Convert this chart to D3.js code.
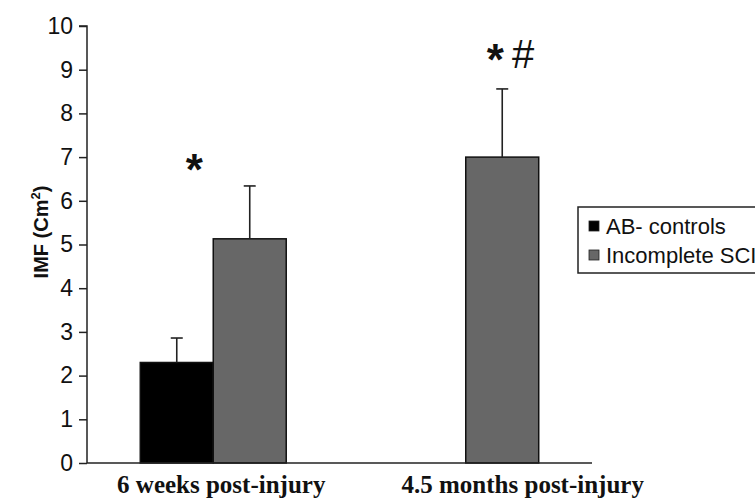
<!DOCTYPE html>
<html>
<head>
<meta charset="utf-8">
<script src="https://cdn.jsdelivr.net/npm/d3@7"></script>
<style>
  html, body { margin: 0; padding: 0; background: #fff; }
  svg { display: block; }
</style>
</head>
<body>
<svg id="chart" width="755" height="500"></svg>
<script>
// IMF by time point and group (mean with upper SD bar)
const timepoints = ["6 weeks post-injury", "4.5 months post-injury"];
const groups = ["AB- controls", "Incomplete SCI"];
const controlsMean = [2.3, null];
const controlsErr = [0.56, null];
const sciMean = [5.13, 7.0];
const sciErr = [1.21, 1.56];
const yTicks = [0, 1, 2, 3, 4, 5, 6, 7, 8, 9, 10];

const colors = { "AB- controls": "#000000", "Incomplete SCI": "#676767" };

const svg = d3.select("#chart");
const W = 755, H = 500;
const margin = { left: 87, right: 163, top: 26, bottom: 37 };

const x0 = d3.scaleBand().domain(timepoints).range([margin.left, W - margin.right]).paddingInner(0).paddingOuter(0);
const x1 = d3.scaleBand().domain(groups).range([0, x0.bandwidth()]).paddingInner(0).paddingOuter(0.73);
const y = d3.scaleLinear().domain([0, 10]).range([H - margin.bottom, margin.top]);

const rows = [];
timepoints.forEach((t, i) => {
  rows.push({ t, g: groups[0], v: controlsMean[i], e: controlsErr[i] });
  rows.push({ t, g: groups[1], v: sciMean[i], e: sciErr[i] });
});
const shown = rows.filter(r => r.v != null);
const barCenter = d => x0(d.t) + x1(d.g) + x1.bandwidth() / 2;

// bars
svg.append("g").selectAll("rect").data(shown).join("rect")
  .attr("x", d => x0(d.t) + x1(d.g))
  .attr("y", d => y(d.v))
  .attr("width", x1.bandwidth())
  .attr("height", d => y(0) - y(d.v))
  .attr("fill", d => colors[d.g])
  .attr("stroke", "#111")
  .attr("stroke-width", 1.5);

// upper error bars
const eb = svg.append("g").attr("stroke", "#222").attr("stroke-width", 1.6);
shown.forEach(d => {
  const cx = barCenter(d);
  eb.append("line").attr("x1", cx).attr("x2", cx).attr("y1", y(d.v)).attr("y2", y(d.v + d.e));
  eb.append("line").attr("x1", cx - 6).attr("x2", cx + 6).attr("y1", y(d.v + d.e)).attr("y2", y(d.v + d.e));
});

// significance markers: * vs controls, # vs 6 weeks
const sig = svg.append("g").attr("fill", "#111");
const s1 = shown[1], s2 = shown[2];
sig.append("text")
  .attr("x", (barCenter(shown[0]) + barCenter(s1)) / 2 - 19)
  .attr("y", y(s1.v + s1.e) - 1)
  .attr("text-anchor", "middle")
  .attr("font-family", "Liberation Sans, Arial, sans-serif")
  .attr("font-weight", "bold")
  .attr("font-size", 44)
  .text("*");
sig.append("text")
  .attr("x", barCenter(s2) - 7)
  .attr("y", y(s2.v + s2.e) - 14)
  .attr("text-anchor", "middle")
  .attr("font-family", "Liberation Sans, Arial, sans-serif")
  .attr("font-weight", "bold")
  .attr("font-size", 44)
  .text("*");
sig.append("text")
  .attr("x", barCenter(s2) + 21)
  .attr("y", y(s2.v + s2.e) - 21)
  .attr("text-anchor", "middle")
  .attr("font-family", "Liberation Sans, Arial, sans-serif")
  .attr("font-size", 40)
  .text("#");

// y axis
const yAxis = svg.append("g")
  .attr("transform", `translate(${margin.left},0)`)
  .call(d3.axisLeft(y).tickValues(yTicks).tickSize(8).tickPadding(6).tickFormat(d3.format("d")));
yAxis.selectAll("path,line").attr("stroke", "#222").attr("stroke-width", 1.5);
yAxis.select(".domain").attr("d", `M-8,${y(10)}H0V${y(0)}`);
yAxis.selectAll("text")
  .attr("font-family", "Liberation Sans, Arial, sans-serif")
  .attr("font-size", 23)
  .attr("fill", "#111");

// x axis baseline
svg.append("line")
  .attr("x1", margin.left).attr("x2", W - margin.right)
  .attr("y1", y(0)).attr("y2", y(0))
  .attr("stroke", "#222").attr("stroke-width", 1.5);

// category labels
const labelShift = [8, 57];
svg.append("g").selectAll("text").data(timepoints).join("text")
  .attr("x", (d, i) => x0(d) + x0.bandwidth() / 2 + labelShift[i])
  .attr("y", 493)
  .attr("text-anchor", "middle")
  .attr("font-family", "Liberation Serif, DejaVu Serif, serif")
  .attr("font-weight", "bold")
  .attr("font-size", 25)
  .attr("fill", "#111")
  .text(d => d);

// y axis title
const yt = svg.append("text")
  .attr("transform", "translate(48,232) rotate(-90)")
  .attr("text-anchor", "middle")
  .attr("font-family", "Liberation Sans, Arial, sans-serif")
  .attr("font-weight", "bold")
  .attr("font-size", 20)
  .attr("fill", "#111");
yt.append("tspan").text("IMF (Cm");
yt.append("tspan").attr("font-size", 13).attr("dy", -8).text("2");
yt.append("tspan").attr("dy", 8).text(")");

// legend
const lg = svg.append("g").attr("transform", "translate(578,207)");
lg.append("rect").attr("width", 190).attr("height", 66)
  .attr("fill", "#fff").attr("stroke", "#222").attr("stroke-width", 1.5);
groups.forEach((g, i) => {
  const row = lg.append("g").attr("transform", `translate(11,${19 + i * 29})`);
  row.append("rect").attr("x", 0).attr("y", -5).attr("width", 10).attr("height", 10)
    .attr("fill", colors[g]).attr("stroke", "#222").attr("stroke-width", 0.8);
  row.append("text").attr("x", 17).attr("y", 0).attr("dy", "0.35em")
    .attr("font-family", "Liberation Sans, Arial, sans-serif")
    .attr("font-size", 22)
    .attr("fill", "#111")
    .text(g);
});
</script>
</body>
</html>
